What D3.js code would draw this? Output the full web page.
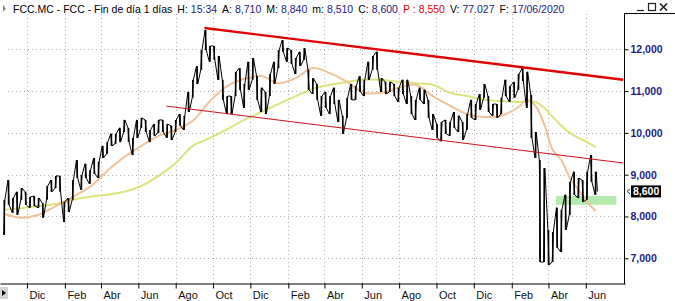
<!DOCTYPE html>
<html>
<head>
<meta charset="utf-8">
<script src="https://cdn.jsdelivr.net/npm/d3@7"></script>
<style>
  body { margin: 0; background: #fff; }
  svg { display: block; font-family: "Liberation Sans", Arial, sans-serif; }
</style>
</head>
<body>
<svg id="chart" width="675" height="301"></svg>
<script>
// weekly price range (euros), first week = 2017-10-25
const firstWeek = "2017-10-25";
const weekHigh = [
  8.40, 8.87, 8.44, 8.59, 8.68, 8.59, 8.47, 8.49, 8.44, 8.32,
  8.73, 8.87, 8.97, 8.97, 8.35, 8.44, 8.87, 9.35, 8.99, 9.26,
  9.11, 9.40, 9.31, 9.69, 9.78, 9.98, 9.98, 10.12, 10.31, 10.12,
  9.88, 10.31, 10.36, 10.31, 10.07, 10.21, 10.31, 10.31, 10.21, 10.17,
  10.31, 10.45, 10.41, 10.98, 11.27, 11.60, 11.98, 12.46, 12.08, 12.08,
  11.84, 11.27, 10.88, 10.88, 11.46, 11.55, 11.17, 11.70, 11.79, 11.36,
  11.08, 10.98, 11.41, 11.70, 11.98, 12.22, 12.03, 11.98, 11.79, 11.94,
  12.03, 11.51, 11.31, 11.17, 10.88, 10.98, 10.88, 11.08, 10.79, 10.41,
  10.84, 11.17, 11.12, 11.36, 11.27, 11.70, 11.84, 11.94, 11.31, 11.22,
  11.22, 11.17, 11.08, 11.27, 11.27, 10.88, 10.79, 11.08, 11.03, 10.79,
  10.45, 10.21, 10.26, 10.31, 10.26, 10.50, 10.41, 10.26, 10.45, 10.79,
  10.69, 10.93, 11.17, 10.88, 10.69, 10.69, 10.84, 11.27, 11.12, 11.22,
  11.41, 11.55, 11.46, 10.91, 10.02, 9.35, 9.16, 7.68, 7.63, 8.21,
  8.16, 8.52, 8.83, 9.07, 8.92, 8.87, 9.07, 9.47, 9.07
];
const weekLow = [
  7.56, 8.28, 8.09, 8.04, 8.40, 8.28, 8.21, 8.25, 8.21, 7.97,
  8.40, 8.59, 8.68, 8.59, 7.87, 8.11, 8.40, 8.92, 8.64, 8.92,
  8.78, 9.02, 8.92, 9.40, 9.50, 9.69, 9.74, 9.78, 10.02, 9.78,
  9.47, 9.88, 10.12, 10.02, 9.78, 9.93, 10.00, 10.02, 9.88, 9.83,
  10.02, 10.17, 10.07, 10.50, 10.84, 11.17, 11.51, 11.98, 11.70, 11.75,
  11.27, 10.79, 10.45, 10.45, 10.88, 11.03, 10.60, 11.03, 11.27, 10.79,
  10.50, 10.45, 10.88, 11.17, 11.55, 11.94, 11.70, 11.65, 11.41, 11.60,
  11.75, 11.03, 10.93, 10.79, 10.41, 10.60, 10.45, 10.69, 10.26, 9.98,
  10.36, 10.79, 10.79, 10.98, 10.88, 11.27, 11.51, 11.51, 10.98, 10.93,
  10.98, 10.88, 10.74, 10.93, 10.69, 10.45, 10.31, 10.79, 10.69, 10.36,
  10.07, 9.88, 9.80, 9.98, 9.93, 10.12, 10.02, 9.83, 10.07, 10.36,
  10.31, 10.55, 10.84, 10.50, 10.41, 10.36, 10.45, 10.88, 10.74, 10.84,
  11.03, 11.24, 10.60, 9.88, 9.40, 6.91, 6.91, 6.84, 6.91, 7.25,
  7.15, 7.68, 8.04, 8.52, 8.44, 8.35, 8.40, 8.83, 8.52
];
const lastClose = 8.60;

// moving averages: [week index, value]
const maFast = [
  [0, 8.06], [4, 7.97], [8, 8.04], [12, 8.25], [16, 8.47], [20, 8.71], [24, 9.09],
  [28, 9.42], [32, 9.69], [36, 9.93], [40, 10.07], [44, 10.29], [48, 10.76],
  [52, 11.12], [56, 11.29], [60, 11.36], [64, 11.19], [68, 11.31], [72, 11.55],
  [76, 11.43], [80, 11.22], [84, 10.96], [88, 10.96], [92, 11.08], [96, 11.15],
  [100, 10.88], [104, 10.65], [108, 10.45], [112, 10.38], [116, 10.41], [120, 10.62],
  [122, 10.79], [124, 10.64], [126, 10.21], [128, 9.59], [130, 9.35], [132, 8.92],
  [134, 8.64], [136, 8.35], [138, 8.13]
];
const maSlow = [
  [0, 8.16], [4, 8.20], [8, 8.25], [12, 8.30], [16, 8.40], [20, 8.47], [24, 8.52],
  [28, 8.59], [32, 8.73], [36, 8.97], [40, 9.28], [44, 9.69], [48, 9.88],
  [52, 10.09], [56, 10.31], [60, 10.50], [64, 10.69], [68, 10.88], [72, 11.05],
  [76, 11.15], [80, 11.22], [84, 11.27], [88, 11.27], [92, 11.22], [96, 11.19],
  [100, 11.15], [104, 10.96], [108, 10.88], [112, 10.79], [116, 10.76], [120, 10.74],
  [124, 10.74], [126, 10.60], [128, 10.38], [130, 10.17], [132, 10.00], [134, 9.88],
  [136, 9.78], [138, 9.66]
];

// channel lines and support zone
const trendUpper = [["2018-09-17", 12.51], ["2020-08-01", 11.27]];
const trendLower = [["2018-07-17", 10.64], ["2020-08-01", 9.28]];
const zoneDates = ["2020-04-13", "2020-07-21"];
const zoneRange = [8.28, 8.49];

const yTicks = [7, 8, 9, 10, 11, 12];
const monthNames = ["Ene", "Feb", "Mar", "Abr", "May", "Jun", "Jul", "Ago", "Sep", "Oct", "Nov", "Dic"];
const headerTitle = "FCC.MC - FCC - Fin de día 1 días";
const headerFields = [
  ["H:", "15:34"], ["A:", "8,710"], ["M:", "8,840"], ["m:", "8,510"],
  ["C:", "8,600"], ["P :", "8,550"], ["V:", "77.027"], ["F:", "17/06/2020"]
];

const parse = d3.timeParse("%Y-%m-%d");
const fmt = v => d3.format(".3f")(v).replace(".", ",");

const svg = d3.select("#chart");

let x = d3.scaleTime()
  .domain([parse("2017-10-18"), parse("2020-08-04")])
  .range([0, 625]);

let y = d3.scaleLinear()
  .domain([6.385, 13.179])
  .range([284, 0]);

const weekDates = weekHigh.map((d, i) => d3.timeDay.offset(parse(firstWeek), 7 * i));
const monthTicks = d3.timeMonth
  .range(parse("2017-12-01"), parse("2020-07-01"))
  .filter(d => d.getMonth() % 2 === 1);

// grid
const grid = svg.append("g")
  .attr("stroke", "#b0b0b0")
  .attr("stroke-dasharray", "1,3");
grid.selectAll(".gh").data(yTicks).join("line").attr("class", "gh")
  .attr("x1", 8).attr("x2", 622)
  .attr("y1", d => Math.round(y(d)) + 0.5)
  .attr("y2", d => Math.round(y(d)) + 0.5);
grid.selectAll(".gv").data(monthTicks).join("line").attr("class", "gv")
  .attr("x1", d => Math.round(x(d)) + 0.5)
  .attr("x2", d => Math.round(x(d)) + 0.5)
  .attr("y1", 14).attr("y2", 283);

svg.append("clipPath").attr("id", "plot")
  .append("rect").attr("x", 0).attr("y", 14).attr("width", 624).attr("height", 270);

const plot = svg.append("g").attr("clip-path", "url(#plot)");

// support zone
plot.append("rect")
  .attr("x", x(parse(zoneDates[0])))
  .attr("width", x(parse(zoneDates[1])) - x(parse(zoneDates[0])))
  .attr("y", y(zoneRange[1]))
  .attr("height", y(zoneRange[0]) - y(zoneRange[1]))
  .attr("fill", "#b6ebb0");

// moving averages
let maLine = d3.line()
  .x(d => x(weekDates[d[0]]))
  .y(d => y(d[1]))
  .curve(d3.curveCatmullRom.alpha(0.5));

plot.append("path").attr("d", maLine(maSlow))
  .attr("fill", "none").attr("stroke", "#dce47e").attr("stroke-width", 2);
plot.append("path").attr("d", maLine(maFast))
  .attr("fill", "none").attr("stroke", "#f2c29a").attr("stroke-width", 2);

// price: a bar per week for its range, joined by a thin line
plot.append("g").selectAll("rect").data(weekHigh).join("rect")
  .attr("x", (d, i) => x(weekDates[i]) - 0.8)
  .attr("width", 1.6)
  .attr("y", d => y(d))
  .attr("height", (d, i) => y(weekLow[i]) - y(d))
  .attr("fill", "#000");

const pts = [];
weekHigh.forEach((h, i) => {
  const cx = x(weekDates[i]);
  const a = i % 2 ? h : weekLow[i];
  const b = i % 2 ? weekLow[i] : h;
  pts.push([cx - 0.6, y(a)], [cx + 0.6, y(b)]);
});
pts.push([x(weekDates[weekDates.length - 1]) + 1.8, y(lastClose)]);

plot.append("path")
  .attr("d", d3.line()(pts))
  .attr("fill", "none")
  .attr("stroke", "#000")
  .attr("stroke-width", 1)
  .attr("stroke-linejoin", "round");

// channel
let tl = d3.line().x(d => x(parse(d[0]))).y(d => y(d[1]));
plot.append("path").attr("d", tl(trendLower))
  .attr("stroke", "#d0101e").attr("stroke-width", 1).attr("fill", "none");
plot.append("path").attr("d", tl(trendUpper))
  .attr("stroke", "#e00000").attr("stroke-width", 2.4).attr("fill", "none");

// x axis
const xAxis = svg.append("g")
  .attr("transform", "translate(0,283.5)")
  .call(d3.axisBottom(x).tickValues(monthTicks).tickSize(5).tickSizeOuter(0)
    .tickFormat(d => monthNames[d.getMonth()]));
xAxis.select(".domain").attr("stroke", "#000");
xAxis.selectAll(".tick line").attr("stroke", "#000");
xAxis.selectAll(".tick text")
  .attr("text-anchor", "start").attr("x", 2).attr("y", 8)
  .attr("font-family", "Liberation Sans, Arial, sans-serif")
  .attr("font-size", 11).attr("fill", "#111");

// y axis
const yAxis = svg.append("g")
  .attr("transform", "translate(624.5,0)")
  .call(d3.axisRight(y).tickValues(yTicks).tickSize(4).tickFormat(fmt));
yAxis.select(".domain").remove();
yAxis.selectAll(".tick line").attr("stroke", "#000");
yAxis.selectAll(".tick text")
  .attr("x", 6)
  .attr("font-family", "Liberation Sans, Arial, sans-serif")
  .attr("font-size", 10.5).attr("font-weight", "bold").attr("fill", "#1c1c80");

svg.append("line").attr("x1", 624.5).attr("x2", 624.5).attr("y1", 13).attr("y2", 284)
  .attr("stroke", "#000");
svg.append("line").attr("x1", 624.5).attr("x2", 675).attr("y1", 13.5).attr("y2", 13.5)
  .attr("stroke", "#000");

// last price marker
const py = y(lastClose);
svg.append("rect").attr("x", 631).attr("y", py - 6).attr("width", 30).attr("height", 12)
  .attr("fill", "#000");
svg.append("text").attr("x", 633).attr("y", py).attr("dy", "0.35em")
  .attr("font-size", 10.5).attr("font-weight", "bold").attr("fill", "#fff")
  .text(fmt(lastClose));
svg.append("path").attr("d", `M630,${py - 2.5}L627,${py}L630,${py + 2.5}`)
  .attr("fill", "none").attr("stroke", "#333").attr("stroke-width", 1);

// header
const header = svg.append("text").attr("x", 13).attr("y", 12.5)
  .attr("font-size", 10.5).attr("fill", "#000");
header.append("tspan").text(headerTitle);
headerFields.forEach(([k, v], i) => {
  const red = k.startsWith("P");
  header.append("tspan").attr("dx", 5).attr("fill", red ? "#e00000" : "#000").text(k);
  header.append("tspan").attr("dx", 3).attr("fill", red ? "#e00000" : "#1c1c80").text(v);
});
svg.append("path").attr("d", "M3,5L6,8.5L3,12Z").attr("fill", "#888");

// window buttons
const btn = svg.append("g").attr("stroke", "#222").attr("fill", "none").attr("stroke-width", 1.2);
btn.append("path").attr("d", "M637,10.5H644");
btn.append("rect").attr("x", 648.5).attr("y", 3.5).attr("width", 7).attr("height", 7);
btn.append("path").attr("d", "M660,3.5L667,10.5M667,3.5L660,10.5").attr("stroke-width", 1.6);

// bottom-left scroll button
svg.append("rect").attr("x", 0).attr("y", 287).attr("width", 8).attr("height", 12).attr("fill", "#d4d4d4");
svg.append("path").attr("d", "M2,290L6,293L2,296Z").attr("fill", "#000");
</script>
</body>
</html>
